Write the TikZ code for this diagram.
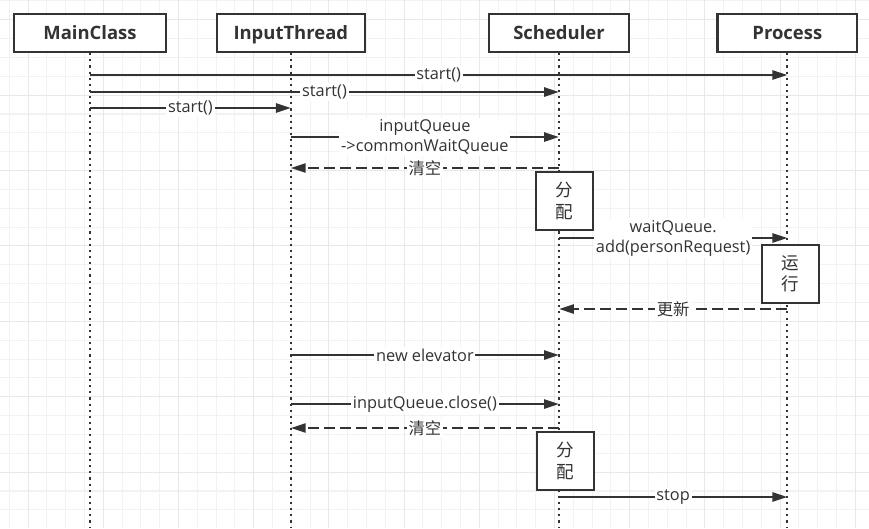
\documentclass[tikz,border=0pt]{standalone}
\usepackage{fontspec}
\setmainfont{Open Sans}
\newfontfamily\cjk{Noto Sans CJK SC}
\usetikzlibrary{positioning, arrows.meta, calc}
\definecolor{ink}{HTML}{333333}
\definecolor{gridminor}{HTML}{F2F2F2}
\definecolor{gridmajor}{HTML}{E8E8E8}
\tikzset{
  head/.style={draw=ink, line width=1.25pt, fill=white, text=ink, minimum height=0.76cm, text height=0.71em, text depth=0pt, font=\bfseries\fontsize{10.5}{12}\selectfont},
  act/.style={draw=ink, line width=1.25pt, fill=white, text=ink, minimum width=1.14cm, minimum height=1.16cm, inner sep=0pt, align=center, font=\cjk\fontsize{10}{12.3}\selectfont},
  lbl/.style={fill=white, text=ink, inner sep=1pt, align=center, font=\fontsize{9.3}{11.4}\selectfont},
  life/.style={draw=ink, line width=1.25pt, dash pattern=on 1.2pt off 2.3pt},
  msg/.style={draw=ink, line width=1.25pt, -{Triangle[length=8.5pt, width=5.2pt]}},
  ret/.style={msg, dash pattern=on 6.3pt off 2.8pt},
  gridln/.style={draw=gridminor, line width=0.6pt},
  gridmj/.style={draw=gridmajor, line width=0.6pt},
}
\begin{document}
\begin{tikzpicture}[x=0.02cm, y=-0.02cm]
\useasboundingbox (0,0) rectangle (869,528);
% grid paper
\foreach \k in {0,...,45} \draw[gridln] (9.3+18.8*\k,0) -- ++(0,528);
\foreach \k in {0,...,27} \draw[gridln] (0,0.9+18.85*\k) -- ++(869,0);
\foreach \k in {1,5,...,45} \draw[gridmj] (9.3+18.8*\k,0) -- ++(0,528);
\foreach \k in {1,5,...,25} \draw[gridmj] (0,0.9+18.85*\k) -- ++(869,0);
% participants
\node[head, minimum width=3.04cm] (main) at (90,33) {MainClass};
\node[head, minimum width=2.96cm] (input) at (290.8,33) {InputThread};
\node[head, minimum width=2.8cm] (sched) at (559,33) {Scheduler};
\node[head, minimum width=2.79cm] (proc) at (787.3,33) {Process};
\coordinate (bottom) at (0,528);
\foreach \n in {main,input,sched,proc} \draw[life] (\n.south) -- (\n |- bottom);
% messages
\draw[msg] (main |- 0,75) -- node[lbl]{start()} (proc |- 0,75);
\draw[msg] (main |- 0,92) -- node[lbl]{start()} (sched |- 0,92);
\draw[msg] (main |- 0,108) -- node[lbl]{start()} (input |- 0,108);
\draw[msg] (input |- 0,137) -- node[lbl]{inputQueue\\->commonWaitQueue} (sched |- 0,137);
\draw[ret] (sched |- 0,168) -- node[lbl]{\cjk 清空} (input |- 0,168);
\node[act] (alloc1) at (564.5,201) {分\\配};
\draw[msg] (sched |- 0,238) -- node[lbl]{waitQueue.\\add(personRequest)} (proc |- 0,238);
\node[act] (run) at (790.3,274) {运\\行};
\draw[ret] (proc |- 0,309) -- node[lbl]{\cjk 更新} (sched |- 0,309);
\draw[msg] (input |- 0,355) -- node[lbl]{new elevator} (sched |- 0,355);
\draw[msg] (input |- 0,404) -- node[lbl]{inputQueue.close()} (sched |- 0,404);
\draw[ret] (sched |- 0,428) -- node[lbl]{\cjk 清空} (input |- 0,428);
\node[act] (alloc2) at (565.3,460.7) {分\\配};
\draw[msg] (sched |- 0,497) -- node[lbl]{stop} (proc |- 0,497);
\end{tikzpicture}
\end{document}
